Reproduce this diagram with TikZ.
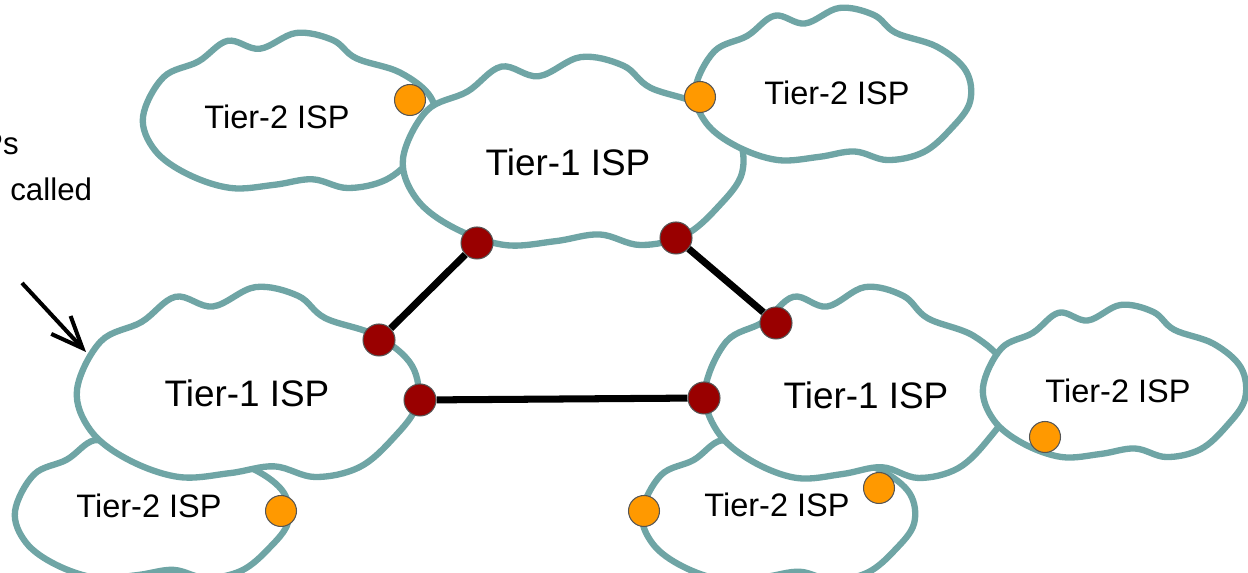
\documentclass[tikz,border=0pt]{standalone}
\usepackage{fontspec}
\setmainfont{Liberation Sans}
\usetikzlibrary{arrows.meta}
\definecolor{cloudteal}{HTML}{6FA5A5}
\definecolor{linkred}{HTML}{990000}
\definecolor{dotorange}{HTML}{FF9900}
\definecolor{dotrim}{HTML}{555555}
\pgfdeclarelayer{front}
\pgfsetlayers{main,front}
\newcommand\mycloudpts{plot[smooth cycle, tension=0.6] coordinates {
(-1.00,0.00) (-0.86,-0.50) (-0.62,-0.70) (-0.42,-0.96) (-0.20,-0.86)
(0.05,-1.06) (0.30,-0.97) (0.46,-0.74) (0.76,-0.56) (0.97,-0.25)
(1.00,0.15) (0.86,0.50) (0.66,0.80) (0.40,0.90) (0.16,0.79)
(-0.10,0.86) (-0.40,0.90) (-0.70,0.72) (-0.92,0.42)}}
\begin{document}
\begin{tikzpicture}[x=0.02cm, y=-0.02cm,
  cloudline/.style={draw=cloudteal, fill=white, line width=3.6pt, line join=round},
  tieronelabel/.style={font=\fontsize{21}{25}\selectfont, inner sep=0pt},
  tiertwolabel/.style={font=\fontsize{18.5}{22}\selectfont, inner sep=0pt},
  reddot/.style={circle, fill=linkred, draw=dotrim, line width=0.6pt, minimum size=0.64cm, inner sep=0pt},
  orangedot/.style={circle, fill=dotorange, draw=dotrim, line width=0.6pt, minimum size=0.62cm, inner sep=0pt},
  link/.style={line width=4pt, black},
  pointer/.style={line width=2.3pt, -{Straight Barb[length=18pt, width=15pt]}},
  sidetext/.style={font=\fontsize{17.8}{22}\selectfont, inner sep=0pt}
]
\useasboundingbox (0,0) rectangle (1248,573);
\clip (0,0) rectangle (1248,573);

% Tier-2 clouds lying beneath Tier-1 clouds
\draw[cloudline, shift={(289,116.8)}, xscale=146, yscale=79.1] \mycloudpts;
\draw[cloudline, shift={(151.5,511.4)}, xscale=136.5, yscale=74] \mycloudpts;
\draw[cloudline, shift={(778,512.5)}, xscale=136, yscale=75] \mycloudpts;

% Tier-1 clouds
\draw[cloudline, shift={(572.5,158.7)}, xscale=169.5, yscale=95.9] \mycloudpts;
\draw[cloudline, shift={(247,389.8)}, xscale=170, yscale=96.9] \mycloudpts;
\draw[cloudline, shift={(857.5,390.3)}, xscale=152.5, yscale=97.4] \mycloudpts;

% Tier-2 clouds lying above Tier-1 clouds
\draw[cloudline, shift={(832.5,90.2)}, xscale=137.5, yscale=77.6] \mycloudpts;
\draw[cloudline, shift={(1114,387.2)}, xscale=131, yscale=77.6] \mycloudpts;

% labels
\node[tieronelabel] (t1top) at (568,162) {Tier-1 ISP};
\node[tieronelabel] (t1left) at (247,393) {Tier-1 ISP};
\node[tieronelabel] (t1right) at (866,395) {Tier-1 ISP};
\node[tiertwolabel] (t2tl) at (277,117) {Tier-2 ISP};
\node[tiertwolabel] (t2tr) at (837,93) {Tier-2 ISP};
\node[tiertwolabel] (t2bl) at (149,506) {Tier-2 ISP};
\node[tiertwolabel] (t2br) at (777,505) {Tier-2 ISP};
\node[tiertwolabel] (t2r) at (1118,391) {Tier-2 ISP};

% side text and arrow
\node[sidetext, anchor=base east] (sideA) at (19,155) {Ps};
\node[sidetext, anchor=base west] (sideB) at (10,201) {called};
\coordinate (arrS) at (22,283);
\coordinate (arrE) at (86,352);
\draw[pointer] (arrS) -- (arrE);

% dots
\begin{pgfonlayer}{front}
\node[reddot] (ra) at (477,243) {};
\node[reddot] (rb) at (676,238) {};
\node[reddot] (rc) at (776,323) {};
\node[reddot] (rd) at (379,340) {};
\node[reddot] (re) at (420,400) {};
\node[reddot] (rf) at (704,398) {};
\node[orangedot] (oa) at (410,100) {};
\node[orangedot] (ob) at (700,97) {};
\node[orangedot] (oc) at (281,511) {};
\node[orangedot] (od) at (1045,437) {};
\node[orangedot] (oe) at (879,488) {};
\node[orangedot] (of) at (644,511) {};
\end{pgfonlayer}

% peering links
\draw[link] (ra) -- (rd);
\draw[link] (rb) -- (rc);
\draw[link] (re) -- (rf);
\end{tikzpicture}
\end{document}
